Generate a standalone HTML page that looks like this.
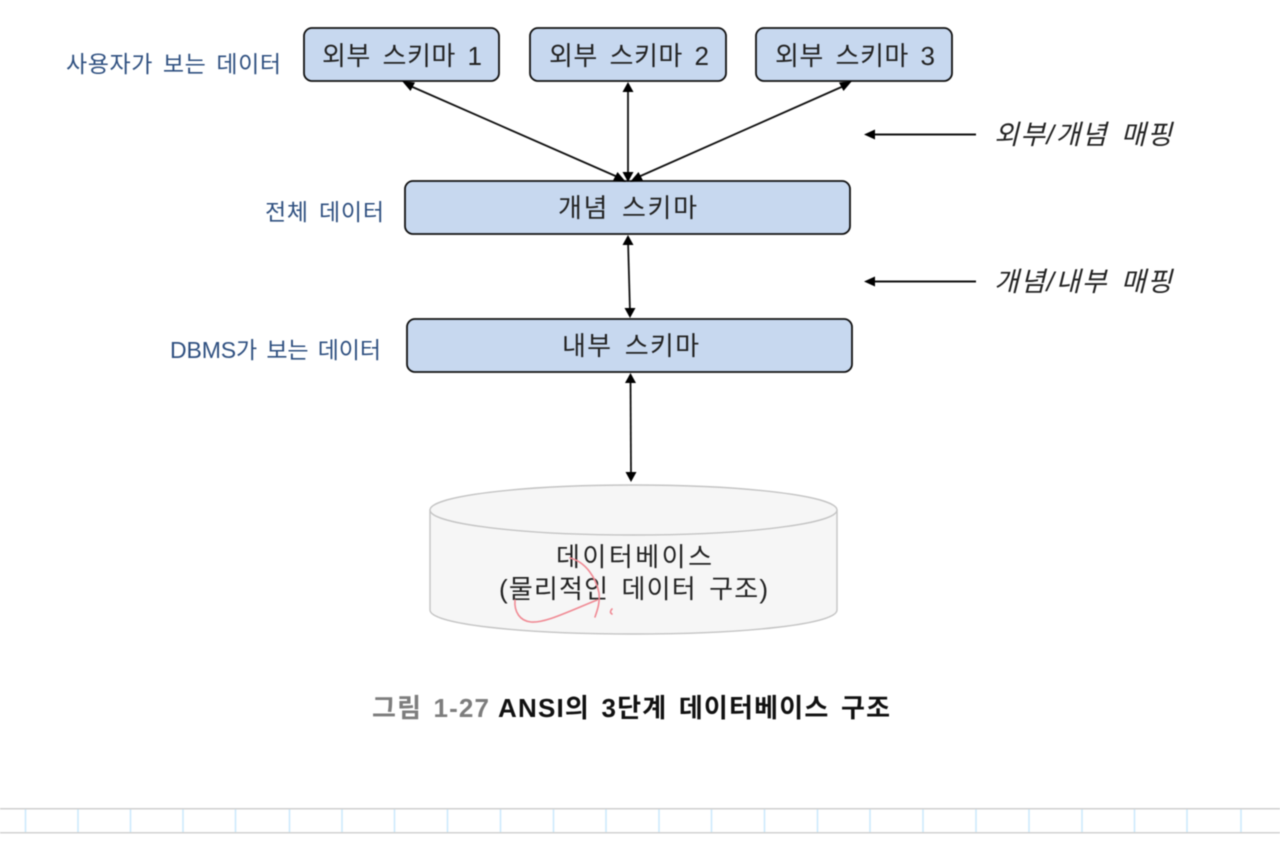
<!DOCTYPE html>
<html lang="ko">
<head>
<meta charset="utf-8">
<style>
html,body{margin:0;padding:0;background:#fff;width:1280px;height:858px;overflow:hidden}
svg{display:block;filter:blur(.5px)}
text{font-family:"Liberation Sans","Noto Sans CJK KR",sans-serif;}
.box{fill:#c7d8ef;stroke:#111;stroke-width:1.8}
.t{font-size:26px;fill:#222;word-spacing:4px}
.b{font-size:23px;fill:#2f5080;word-spacing:3px}
.m{font-size:27px;fill:#222;font-style:italic;word-spacing:4px}
.l{stroke:#111;stroke-width:1.8;fill:none}
.a{fill:#000}
.g{stroke:#cdeafc;stroke-width:1.6}
.c{font-size:26px;font-weight:bold;word-spacing:3px}
</style>
</head>
<body>
<svg width="1280" height="858" viewBox="0 0 1280 858" xmlns="http://www.w3.org/2000/svg">
<rect width="1280" height="858" fill="#fff"/>

<!-- boxes -->
<rect class="box" x="304" y="28" width="195" height="53" rx="8"/>
<rect class="box" x="530" y="28" width="196" height="53" rx="8"/>
<rect class="box" x="756" y="28" width="196" height="53" rx="8"/>
<rect class="box" x="405" y="181" width="445" height="53" rx="8"/>
<rect class="box" x="407" y="319" width="445" height="53" rx="8"/>

<text class="t" x="322" y="65" textLength="160">외부 스키마 1</text>
<text class="t" x="549" y="65" textLength="160">외부 스키마 2</text>
<text class="t" x="775" y="65" textLength="160">외부 스키마 3</text>
<text class="t" x="558" y="217" textLength="139">개념 스키마</text>
<text class="t" x="562" y="355" textLength="137">내부 스키마</text>

<!-- side labels -->
<text class="b" x="66" y="72" textLength="215">사용자가 보는 데이터</text>
<text class="b" x="265" y="220" textLength="119">전체 데이터</text>
<text class="b" x="170" y="358" textLength="211">DBMS가 보는 데이터</text>

<!-- connectors -->
<line class="l" x1="408" y1="85" x2="620" y2="178"/>
<polygon class="a" points="402,81 415,82.500 410.500,91"/>
<polygon class="a" points="626,182 613,180.500 617.500,172"/>
<line class="l" x1="628" y1="88" x2="628" y2="175"/>
<polygon class="a" points="628,82 622.500,92 633.500,92"/>
<polygon class="a" points="628,182 622.500,172 633.500,172"/>
<line class="l" x1="846" y1="85" x2="636" y2="178"/>
<polygon class="a" points="852,81 839,82.500 843.500,91"/>
<polygon class="a" points="630,182 643,180.500 638.500,172"/>

<line class="l" x1="628" y1="240" x2="630" y2="312"/>
<polygon class="a" points="628,235 622.500,245 633.500,245"/>
<polygon class="a" points="630,318 624.500,308 635.500,308"/>

<line class="l" x1="630.500" y1="378" x2="631" y2="476"/>
<polygon class="a" points="630.500,373 625,383 636,383"/>
<polygon class="a" points="631,482 625.500,472 636.500,472"/>

<!-- mapping arrows -->
<line class="l" x1="870" y1="134.500" x2="976" y2="134.500" style="stroke-width:2"/>
<polygon class="a" points="864,134.500 875,129.500 875,139.500"/>
<line class="l" x1="870" y1="281.500" x2="976" y2="281.500" style="stroke-width:2"/>
<polygon class="a" points="864,281.500 875,276.500 875,286.500"/>
<text class="m" x="994" y="144" textLength="178">외부/개념 매핑</text>
<text class="m" x="994" y="291" textLength="178">개념/내부 매핑</text>

<!-- cylinder -->
<path d="M430 510 V610 C430 624 520 634 633.500 634 C747 634 837 624 837 610 V510 Z" fill="#f6f6f6" stroke="#c4c4c4" stroke-width="1.4"/>
<ellipse cx="633.500" cy="510" rx="203.500" ry="25" fill="#f6f6f6" stroke="#c4c4c4" stroke-width="1.4"/>
<text class="t" x="556" y="566" textLength="156">데이터베이스</text>
<text class="t" x="499" y="598" textLength="269">(물리적인 데이터 구조)</text>

<!-- red scribble -->
<g fill="none" stroke="#f08a94" stroke-width="1.600" stroke-linecap="round">
<path d="M515 600 C514 612 520 621 531 622 C545 623 565 613 597 600"/>
<path d="M570 558 C586 562 596 578 599 593 C600 604 597 611 595 617"/>
<path d="M612 609 C610 611 610 613 612 614"/>
</g>

<!-- caption -->
<text class="c" x="372" y="717" textLength="117" style="fill:#7d7d7d">그림 1-27</text>
<text class="c" x="498" y="717" textLength="392" style="fill:#111">ANSI의 3단계 데이터베이스 구조</text>

<!-- ruler -->
<g class="g">
<line x1="25.500" y1="809" x2="25.500" y2="832"/>
<line x1="78" y1="809" x2="78" y2="832"/>
<line x1="130.500" y1="809" x2="130.500" y2="832"/>
<line x1="183" y1="809" x2="183" y2="832"/>
<line x1="235.500" y1="809" x2="235.500" y2="832"/>
<line x1="289.500" y1="809" x2="289.500" y2="832"/>
<line x1="342" y1="809" x2="342" y2="832"/>
<line x1="394.500" y1="809" x2="394.500" y2="832"/>
<line x1="447.500" y1="809" x2="447.500" y2="832"/>
<line x1="500.500" y1="809" x2="500.500" y2="832"/>
<line x1="553.500" y1="809" x2="553.500" y2="832"/>
<line x1="606" y1="809" x2="606" y2="832"/>
<line x1="659" y1="809" x2="659" y2="832"/>
<line x1="711.500" y1="809" x2="711.500" y2="832"/>
<line x1="764.500" y1="809" x2="764.500" y2="832"/>
<line x1="817.500" y1="809" x2="817.500" y2="832"/>
<line x1="870" y1="809" x2="870" y2="832"/>
<line x1="923" y1="809" x2="923" y2="832"/>
<line x1="976" y1="809" x2="976" y2="832"/>
<line x1="1029" y1="809" x2="1029" y2="832"/>
<line x1="1082" y1="809" x2="1082" y2="832"/>
<line x1="1134.500" y1="809" x2="1134.500" y2="832"/>
<line x1="1187" y1="809" x2="1187" y2="832"/>
<line x1="1241" y1="809" x2="1241" y2="832"/>
</g>
<rect x="0" y="808" width="1280" height="1.500" fill="#cfcfcf"/>
<rect x="0" y="832" width="1280" height="1.500" fill="#d2d2d2"/>
</svg>
</body>
</html>
